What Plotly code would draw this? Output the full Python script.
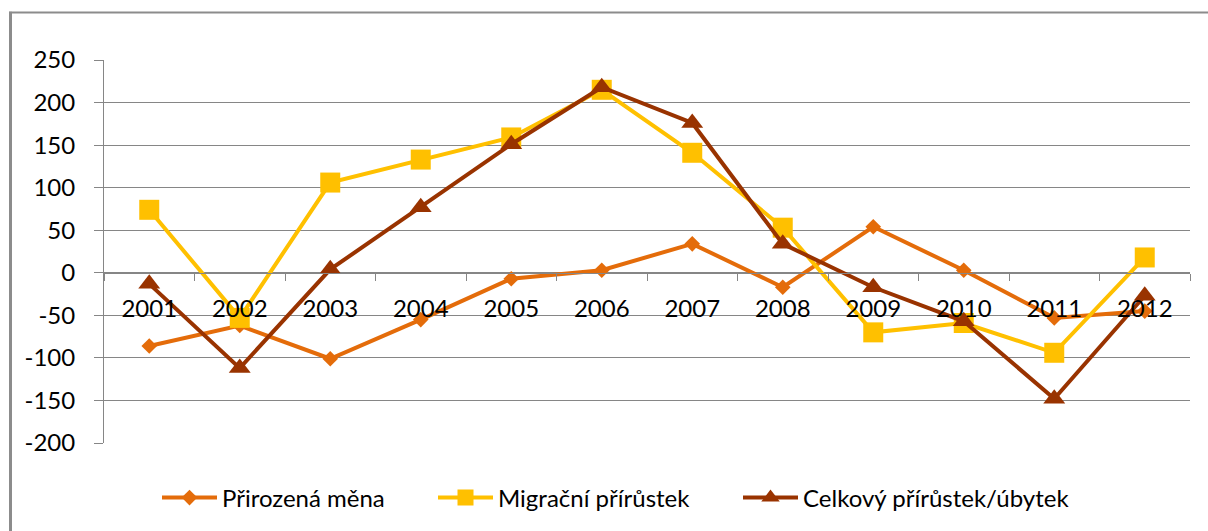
import plotly.graph_objects as go

years = ["2001", "2002", "2003", "2004", "2005", "2006", "2007", "2008", "2009", "2010", "2011", "2012"]
prirozena_mena = [-86, -62, -101, -55, -7, 3, 34, -17, 54, 3, -53, -45]
migracni_prirustek = [74, -53, 106, 133, 159, 215, 141, 53, -70, -59, -94, 18]
celkovy_prirustek = [-13, -112, 4, 77, 151, 218, 176, 34, -17, -57, -148, -27]
y_ticks = [-200, -150, -100, -50, 0, 50, 100, 150, 200, 250]
y_tick_labels = ["-200", "-150", "-100", "-50", "0", "50", "100", "150", "200", "250"]

W, H = 1208, 531
L, R, T, B = 104, 1190, 60, 444
pw, ph = R - L, B - T


def px_x(x):
    return (x - L) / pw


def px_y(y):
    return (B - y) / ph


FONT = "Lato"
FS = 24
GRID = "#868686"
FRAME = "#8C8C8C"

fig = go.Figure()
fig.add_trace(go.Scatter(
    x=years, y=prirozena_mena, name="Přirozená měna", mode="lines+markers",
    line=dict(color="#E46C0A", width=4),
    marker=dict(symbol="diamond", size=12, color="#E46C0A"),
    legend="legend",
))
fig.add_trace(go.Scatter(
    x=years, y=migracni_prirustek, name="Migrační přírůstek", mode="lines+markers",
    line=dict(color="#FFC000", width=4),
    marker=dict(symbol="square", size=20, color="#FFC000"),
    legend="legend2",
))
fig.add_trace(go.Scatter(
    x=years, y=celkovy_prirustek, name="Celkový přírůstek/úbytek", mode="lines+markers",
    line=dict(color="#993300", width=4),
    marker=dict(symbol="triangle-up", size=19, color="#993300"),
    legend="legend3",
))

zero_pos = (0 - y_ticks[0]) / (y_ticks[-1] - y_ticks[0])


def leg(xpix):
    return dict(orientation="h", x=px_x(xpix), xanchor="left", y=px_y(498), yanchor="middle",
                itemwidth=55, font=dict(family=FONT, size=FS, color="black"),
                bgcolor="rgba(0,0,0,0)", borderwidth=0)


fig.update_layout(
    width=W, height=H,
    margin=dict(l=L, r=W - R, t=T, b=H - B, pad=0),
    paper_bgcolor="white", plot_bgcolor="white",
    font=dict(family=FONT, size=FS, color="black"),
    showlegend=True,
    legend=leg(157),
    legend2=leg(433),
    legend3=leg(738),
    xaxis=dict(
        type="category", range=[-0.5, 11.5], anchor="free", position=zero_pos,
        showline=True, linecolor=GRID, linewidth=1,
        ticks="outside", ticklen=7, tickcolor=GRID, tickson="boundaries",
        showgrid=False, zeroline=False, ticklabelstandoff=14,
        tickfont=dict(family=FONT, size=FS, color="black"),
    ),
    yaxis=dict(
        range=[y_ticks[0], y_ticks[-1]], tickvals=y_ticks, ticktext=y_tick_labels,
        showline=True, linecolor=GRID, linewidth=1,
        ticks="outside", ticklen=9, tickcolor=GRID,
        showgrid=True, gridcolor=GRID, gridwidth=1, zeroline=False,
        ticklabelstandoff=14,
        tickfont=dict(family=FONT, size=FS, color="black"),
    ),
    shapes=[
        dict(type="line", xref="paper", yref="paper",
             x0=px_x(10.5), x1=px_x(10.5), y0=px_y(600), y1=px_y(11.5),
             line=dict(color=FRAME, width=3), layer="below"),
        dict(type="line", xref="paper", yref="paper",
             x0=px_x(9), x1=px_x(1300), y0=px_y(12.5), y1=px_y(12.5),
             line=dict(color=FRAME, width=2), layer="below"),
    ],
)

fig.write_html("out.html",
               config={"displayModeBar": False},
               post_script="document.body.style.margin='0';document.body.style.overflow='hidden';")
